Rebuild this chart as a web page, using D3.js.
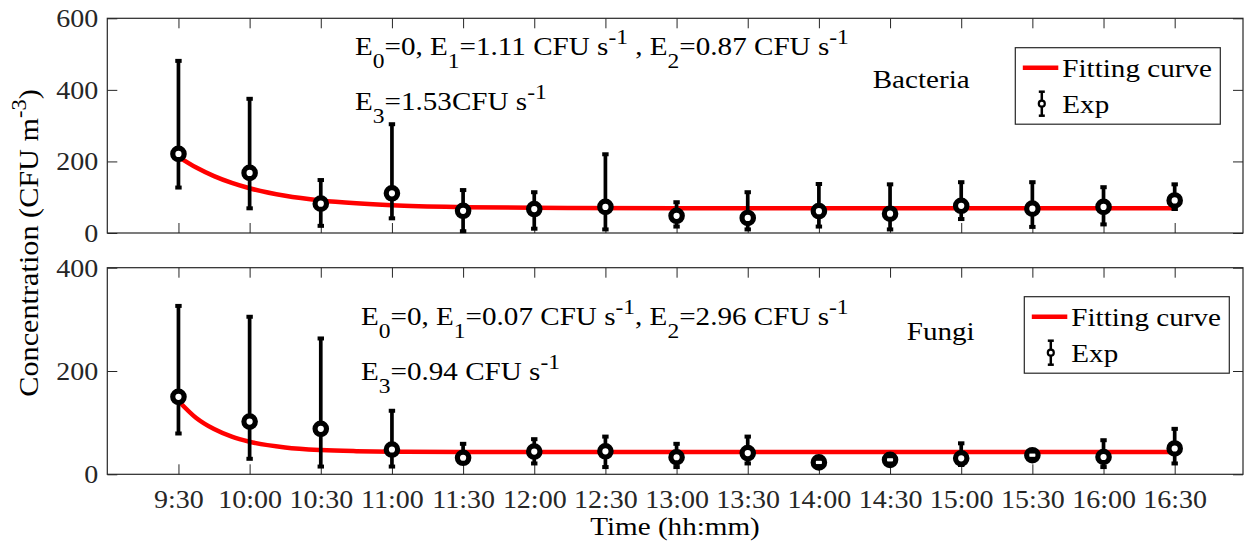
<!DOCTYPE html>
<html>
<head>
<meta charset="utf-8">
<script src="https://cdn.jsdelivr.net/npm/d3@7"></script>
<style>
  body { margin: 0; background: #fff; }
  svg { display: block; }
  text { white-space: pre; }
</style>
</head>
<body>
<svg id="chart" width="1245" height="545"></svg>
<script>
// Data (x = sample index, 1 = 9:30, step 30 min)
const timeLabels = ["9:30", "10:00", "10:30", "11:00", "11:30", "12:00", "12:30", "13:00",
  "13:30", "14:00", "14:30", "15:00", "15:30", "16:00", "16:30"];

const bacteriaMean  = [221, 168, 82, 111, 62, 67, 73, 48, 42, 61, 54, 76, 68, 73, 91];
const bacteriaUpper = [481, 375, 148, 304, 120, 114, 220, 86, 114, 137, 136, 142, 142, 128, 136];
const bacteriaLower = [127, 69, 20, 41, 5, 12, 10, 18, 10, 18, 10, 39, 17, 24, 67];

const fungiMean  = [150, 102, 88, 48, 32, 44, 44.5, 33, 41, 23, 28, 31, 37, 33.5, 50];
const fungiUpper = [326, 305, 263, 123, 59, 68, 73, 59, 73, 30, 35, 60, 44, 66, 88];
const fungiLower = [79, 30, 15, 15, 22, 21, 14, 14, 21, 16, 21, 18, 30, 14, 21];

// fitted curves
const bacteriaFitT = [1, 1.25, 1.5, 1.75, 2, 2.5, 3, 3.5, 4, 5, 6, 8, 15];
const bacteriaFitV = [213, 183, 159, 140, 125, 104, 91, 83, 77.5, 72.3, 70.3, 69.2, 69];
const fungiFitT = [1, 1.25, 1.5, 1.75, 2, 2.5, 3, 3.5, 4, 5, 6, 15];
const fungiFitV = [142, 109, 87.5, 72.8, 63, 52, 47, 44.8, 43.8, 43.2, 43, 43];

const bacteriaTicks = [0, 200, 400, 600];
const fungiTicks = [0, 200, 400];

// Layout / style
const FONT = "'Liberation Serif', 'Times New Roman', serif";
const SX = 1.12;          // horizontal stretch of the original glyphs
const AX = "#262626";
const L = 107.3, R = 1243;

const svg = d3.select("#chart");

const x = d3.scaleLinear().domain([0, 15.96]).range([L, R]);

function richText(g, px, py, parts, size, opts = {}) {
  const small = opts.small || Math.round(size * 0.8);
  const t = g.append("text")
    .attr("transform", `translate(${px},${py})${opts.rotate ? " rotate(-90)" : ""} scale(${SX},1)`)
    .attr("font-family", FONT)
    .attr("font-size", size)
    .attr("fill", opts.color || "#000")
    .attr("text-anchor", opts.anchor || "start");
  let shift = 0;
  parts.forEach(p => {
    const target = p.sub ? size * 0.5 : p.sup ? -size * 0.42 : 0;
    t.append("tspan")
      .attr("dy", target - shift)
      .attr("font-size", (p.sub || p.sup) ? small : size)
      .text(p.t);
    shift = target;
  });
  return t;
}

function drawPanel(p) {
  const y = d3.scaleLinear().domain([0, p.yMax]).range([p.bottom, p.top]);
  const g = svg.append("g");

  // ticks (inward, all four sides)
  const ticks = timeLabels.map((d, i) => i + 1);
  const styleAxis = a => {
    a.select(".domain").remove();
    a.selectAll("line").attr("stroke", AX).attr("stroke-width", 1);
    a.attr("font-family", FONT).attr("font-size", 25);
    a.selectAll("text").attr("fill", AX);
  };

  g.append("g").attr("transform", `translate(0,${p.bottom})`)
    .call(d3.axisBottom(x).tickValues(ticks).tickSize(-10)
      .tickFormat(i => p.showX ? timeLabels[i - 1] : ""))
    .call(styleAxis)
    .call(a => a.selectAll("text").attr("y", 33.7).attr("dy", null)
      .attr("transform", `scale(${SX},1)`));

  g.append("g").attr("transform", `translate(0,${p.top})`)
    .call(d3.axisTop(x).tickValues(ticks).tickSize(-10).tickFormat(""))
    .call(styleAxis);

  g.append("g").attr("transform", `translate(${L},0)`)
    .call(d3.axisLeft(y).tickValues(p.yTicks).tickSize(-10).tickPadding(0))
    .call(styleAxis)
    .call(a => a.selectAll("text").attr("x", -8).attr("dy", "0.34em")
      .attr("transform", `scale(${SX},1)`));

  g.append("g").attr("transform", `translate(${R},0)`)
    .call(d3.axisRight(y).tickValues(p.yTicks).tickSize(-10).tickFormat(""))
    .call(styleAxis);

  // box
  g.append("rect")
    .attr("x", L).attr("y", p.top)
    .attr("width", R - L).attr("height", p.bottom - p.top)
    .attr("fill", "none").attr("stroke", AX).attr("stroke-width", 1.2);

  // fitting curve
  const fit = p.fitT.map((t, i) => [t, p.fitV[i]]);
  g.append("path")
    .datum(fit)
    .attr("fill", "none")
    .attr("stroke", "#ff0000")
    .attr("stroke-width", 4.5)
    .attr("d", d3.line().x(d => x(d[0])).y(d => y(d[1])).curve(d3.curveMonotoneX));

  // error bars
  const pts = p.mean.map((m, i) => ({ t: i + 1, m, hi: p.upper[i], lo: p.lower[i] }));
  g.selectAll(".bar").data(pts).enter().append("line")
    .attr("x1", d => x(d.t)).attr("x2", d => x(d.t))
    .attr("y1", d => y(d.hi)).attr("y2", d => y(d.lo))
    .attr("stroke", "#000").attr("stroke-width", 3.7);

  g.selectAll(".marker").data(pts).enter().append("circle")
    .attr("cx", d => x(d.t)).attr("cy", d => y(d.m))
    .attr("r", 5.7)
    .attr("fill", "#fff").attr("stroke", "#000").attr("stroke-width", 5.2);

  ["hi", "lo"].forEach(k => {
    g.selectAll(".cap-" + k).data(pts).enter().append("line")
      .attr("x1", d => x(d.t) - 3.2).attr("x2", d => x(d.t) + 3.2)
      .attr("y1", d => y(d[k])).attr("y2", d => y(d[k]))
      .attr("stroke", "#000").attr("stroke-width", 4);
  });

  // annotations
  p.lines.forEach(l => richText(g, l.x, l.y, l.parts, 26, { small: 21 }));
  richText(g, p.name.x, p.name.y, [{ t: p.name.t }], 26);

  // legend
  const lg = p.legend;
  g.append("rect")
    .attr("x", lg.x).attr("y", lg.y).attr("width", 205).attr("height", 76.5)
    .attr("fill", "#fff").attr("stroke", AX).attr("stroke-width", 1.2);
  g.append("line")
    .attr("x1", lg.x + 7.5).attr("x2", lg.x + 43)
    .attr("y1", lg.y + 20).attr("y2", lg.y + 20)
    .attr("stroke", "#ff0000").attr("stroke-width", 4.5);
  const mx = lg.x + 26.5, my = lg.y + 56;
  g.append("line").attr("x1", mx).attr("x2", mx).attr("y1", my - 12).attr("y2", my + 12)
    .attr("stroke", "#000").attr("stroke-width", 2.5);
  [-12, 12].forEach(o => g.append("line")
    .attr("x1", mx - 3).attr("x2", mx + 3).attr("y1", my + o).attr("y2", my + o)
    .attr("stroke", "#000").attr("stroke-width", 2.5));
  g.append("circle").attr("cx", mx).attr("cy", my).attr("r", 3)
    .attr("fill", "#fff").attr("stroke", "#000").attr("stroke-width", 2.2);
  richText(g, lg.x + 47, lg.y + 29.5, [{ t: "Fitting curve" }], 26);
  richText(g, lg.x + 47, lg.y + 65.5, [{ t: "Exp" }], 26);
}

drawPanel({
  top: 18.3, bottom: 233, yMax: 600, yTicks: bacteriaTicks, showX: false,
  mean: bacteriaMean, upper: bacteriaUpper, lower: bacteriaLower,
  fitT: bacteriaFitT, fitV: bacteriaFitV,
  lines: [
    { x: 355, y: 55, parts: [{ t: "E" }, { t: "0", sub: true }, { t: "=0, E" }, { t: "1", sub: true },
      { t: "=1.11 CFU s" }, { t: "-1", sup: true }, { t: " , E" }, { t: "2", sub: true },
      { t: "=0.87 CFU s" }, { t: "-1", sup: true }] },
    { x: 355, y: 110, parts: [{ t: "E" }, { t: "3", sub: true }, { t: "=1.53CFU s" }, { t: "-1", sup: true }] }
  ],
  name: { t: "Bacteria", x: 872.7, y: 88 },
  legend: { x: 1015.3, y: 47.7 }
});

drawPanel({
  top: 267.7, bottom: 474.3, yMax: 400, yTicks: fungiTicks, showX: true,
  mean: fungiMean, upper: fungiUpper, lower: fungiLower,
  fitT: fungiFitT, fitV: fungiFitV,
  lines: [
    { x: 361, y: 325, parts: [{ t: "E" }, { t: "0", sub: true }, { t: "=0, E" }, { t: "1", sub: true },
      { t: "=0.07 CFU s" }, { t: "-1", sup: true }, { t: ", E" }, { t: "2", sub: true },
      { t: "=2.96 CFU s" }, { t: "-1", sup: true }] },
    { x: 361, y: 380, parts: [{ t: "E" }, { t: "3", sub: true }, { t: "=0.94 CFU s" }, { t: "-1", sup: true }] }
  ],
  name: { t: "Fungi", x: 906.7, y: 340 },
  legend: { x: 1024.3, y: 296.7 }
});

// axis titles
richText(svg, 37.5, 243, [{ t: "Concentration (CFU m" }, { t: "-3", sup: true }, { t: ")" }], 27,
  { rotate: true, anchor: "middle", color: "#000", small: 20 });
richText(svg, 675, 535, [{ t: "Time (hh:mm)" }], 26, { anchor: "middle" });
</script>
</body>
</html>
